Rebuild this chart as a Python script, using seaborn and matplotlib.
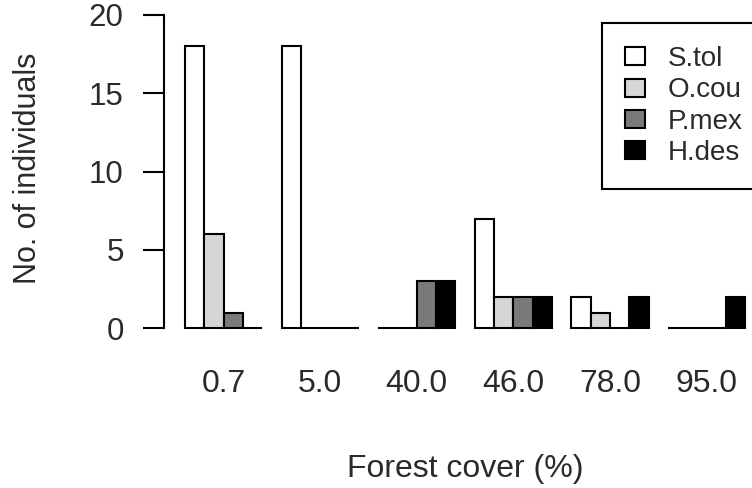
import matplotlib
matplotlib.use("Agg")
import matplotlib.pyplot as plt
import pandas as pd
import seaborn as sns

# values
cover = ["0.7", "5.0", "40.0", "46.0", "78.0", "95.0"]
species = ["S.tol", "O.cou", "P.mex", "H.des"]
s_tol = [18, 18, 0, 7, 2, 0]
o_cou = [6, 0, 0, 2, 1, 0]
p_mex = [1, 0, 3, 2, 0, 0]
h_des = [0, 0, 3, 2, 2, 2]
colours = ["#ffffff", "#d6d6d6", "#7a7a7a", "#000000"]

rows = []
for sp, vals in zip(species, [s_tol, o_cou, p_mex, h_des]):
    for c, v in zip(cover, vals):
        rows.append({"cover": c, "species": sp, "n": v})
df = pd.DataFrame(rows)

sns.set_style("white")
plt.rcParams["font.family"] = ["Liberation Sans", "DejaVu Sans"]
txt = "#2a2a2a"

fig = plt.figure(figsize=(7.52, 4.88), dpi=100)
ax = fig.add_axes([164 / 752, 1 - 333 / 488, 1 - 164 / 752, (333 - 15) / 488])

sns.barplot(data=df, x="cover", y="n", hue="species", order=cover,
            hue_order=species, palette=colours, edgecolor="black",
            linewidth=1.5, width=0.8, saturation=1, ax=ax)

ax.set_xlim(-0.617, 5.47)
ax.set_ylim(-0.3, 20)
for s in ["top", "right", "bottom"]:
    ax.spines[s].set_visible(False)
ax.spines["left"].set_bounds(0, 20)
ax.spines["left"].set_linewidth(1.5)
ax.spines["left"].set_color("black")

ax.set_yticks([0, 5, 10, 15, 20])
ax.tick_params(axis="y", direction="out", length=15, width=1.5,
               pad=14, labelsize=22.5, labelcolor=txt, color="black", left=True)
ax.tick_params(axis="x", length=0, pad=26, labelsize=23, labelcolor=txt)
ax.set_xlabel("")
ax.set_ylabel("")

fig.text(465 / 752, 1 - 469 / 488, "Forest cover (%)", ha="center",
         va="center", fontsize=23, color=txt)
fig.text(28 / 752, 1 - 168 / 488, "No. of individuals", ha="center",
         va="center", rotation=90, fontsize=22, color=txt)

ax.legend(loc="upper left", bbox_to_anchor=(602 / 752, 1 - 23 / 488),
          bbox_transform=fig.transFigure, fontsize=20, frameon=True,
          fancybox=False, edgecolor="black", framealpha=1,
          handlelength=0.72, handleheight=0.62, handletextpad=0.83,
          labelspacing=0.19, borderpad=0.83, borderaxespad=0)
ax.get_legend().get_frame().set_linewidth(1.5)
for t in ax.get_legend().get_texts():
    t.set_color(txt)

plt.savefig("out.png", dpi=100)
